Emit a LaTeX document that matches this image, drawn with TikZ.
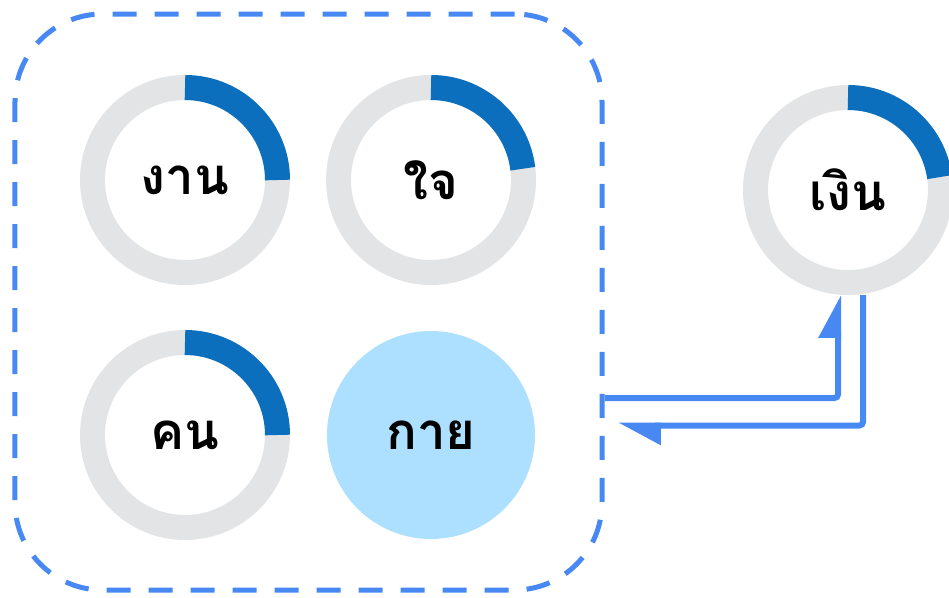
\documentclass[tikz,border=0pt]{standalone}
\usepackage{fontspec}
\newfontfamily\thaifont[Script=Thai]{Loma}
\usetikzlibrary{arrows.meta,calc}

\definecolor{linkblue}{HTML}{4788F3}
\definecolor{ringblue}{HTML}{0B6FBD}
\definecolor{ringgrey}{HTML}{E3E4E5}
\definecolor{bodyfill}{HTML}{ADDFFE}

\begin{document}
\begin{tikzpicture}[
  ring/.style={circle,draw=ringgrey,line width=0.5cm,minimum size=3.7cm,outer sep=0.25cm,
    font=\thaifont\bfseries\fontsize{29}{31}\selectfont},
  bluearc/.style={ringblue,line width=0.5cm},
  link/.style={linkblue,line width=0.12cm,rounded corners=2pt,-{Triangle[left,length=0.74cm,width=0.76cm]}}
]

\useasboundingbox (0,0) rectangle (18.98,-11.94);

% 虚线框
\node[draw=linkblue,line width=0.1cm,dash pattern=on 0.48cm off 0.36cm,rounded corners=1.75cm,
  minimum width=11.74cm,minimum height=11.52cm] (body) at (6.17,-6.04) {};

% 四个圆环
\node[ring] (ngan) at (3.70,-3.60) {งาน};
\node[ring] (jai) at (8.62,-3.60) {ใจ};
\node[ring] (khon) at (3.70,-8.70) {คน};
\node[circle,fill=bodyfill,minimum size=4.16cm,outer sep=0pt,
  font=\thaifont\bfseries\fontsize{29}{31}\selectfont] (kai) at (8.62,-8.70) {กาย};

% 右边的圆环
\node[ring] (ngoen) at (16.96,-3.80) {เงิน};

% 蓝色进度
\draw[bluearc] (ngan.center) ++(90:1.85) arc[start angle=90,end angle=0,radius=1.85];
\draw[bluearc] (jai.center) ++(90:1.85) arc[start angle=90,end angle=7,radius=1.85];
\draw[bluearc] (khon.center) ++(90:1.85) arc[start angle=90,end angle=0,radius=1.85];
\draw[bluearc] (ngoen.center) ++(90:1.85) arc[start angle=90,end angle=8,radius=1.85];

% 箭头
\coordinate (back) at (12.36,-8.51);
\draw[link] (body.east |- 0,-7.96) -| ([xshift=-0.2cm]ngoen.south);
\draw[link] ([xshift=0.3cm]ngoen.south) |- (back);

\end{tikzpicture}
\end{document}
